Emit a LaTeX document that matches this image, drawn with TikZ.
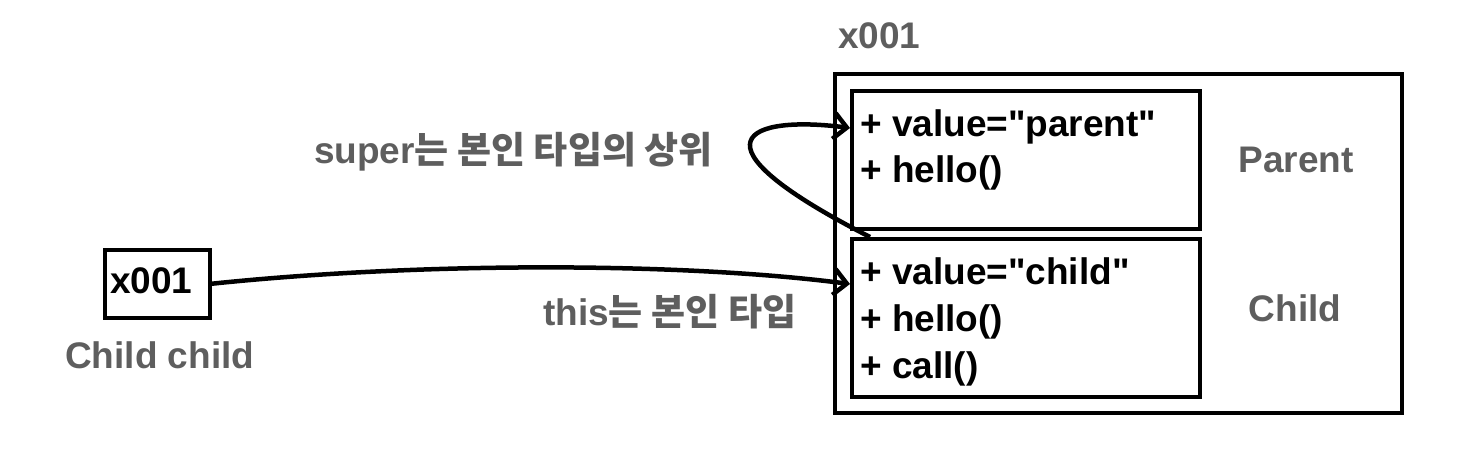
\documentclass[tikz,border=0pt]{standalone}
\usepackage{fontspec}
\setmainfont{Liberation Sans}
\newfontfamily\krfont{Noto Sans CJK KR}
\usetikzlibrary{arrows.meta}
\definecolor{labelgray}{HTML}{5E5E5E}
\tikzset{
  membox/.style={draw, line width=3.5pt, inner sep=0pt, anchor=north west},
  member/.style={anchor=base west, inner sep=0pt, font=\bfseries\fontsize{37}{44}\selectfont},
  tag/.style={member, text=labelgray},
  ref/.style={line width=4.5pt, -{Straight Barb[length=13pt,width=26pt]}},
}
\begin{document}
\begin{tikzpicture}[x=1pt,y=-1pt]
  \useasboundingbox (0,0) rectangle (1460,456);
  % variable
  \node[membox, minimum width=105pt, minimum height=68pt] (ptr) at (103,248) {};
  \node[member] (ptrval) at (110,293) {x001};
  \node[tag] (ptrname) at (65,368) {Child child};
  % instance
  \node[tag] (addr) at (838,48) {x001};
  \node[membox, minimum width=567pt, minimum height=339pt] (obj) at (833,72) {};
  \node[membox, minimum width=348pt, minimum height=138pt] (parent) at (850,89) {};
  \node[membox, minimum width=348pt, minimum height=158pt] (child) at (850,237) {};
  % members
  \node[member] (pv) at (860,136) {+ value=\textquotedbl parent\textquotedbl};
  \node[member] (ph) at (860,182) {+ hello()};
  \node[member] (cv) at (860,284) {+ value=\textquotedbl child\textquotedbl};
  \node[member] (ch) at (860,331) {+ hello()};
  \node[member] (cc) at (860,378) {+ call()};
  % type names
  \node[tag, anchor=base] (ptype) at (1296,172) {Parent};
  \node[tag, anchor=base] (ctype) at (1295,321) {Child};
  % labels
  \node[tag] (superlbl) at (314,163) {super{\krfont 는 본인 타입의 상위}};
  \node[tag] (thislbl) at (543,325) {this{\krfont 는 본인 타입}};
  % references
  \coordinate (thisend) at (child.west |- cv.base);
  \path (parent.west |- pv.base) ++(0,-8) coordinate (superend);
  \coordinate (superstart) at ([xshift=20pt]child.north west);
  \draw[ref] (ptr.east) .. controls (420,262) and (680,262) .. (thisend);
  \draw[ref] (superstart) .. controls (680,140) and (750,115) .. (superend);
\end{tikzpicture}
\end{document}
